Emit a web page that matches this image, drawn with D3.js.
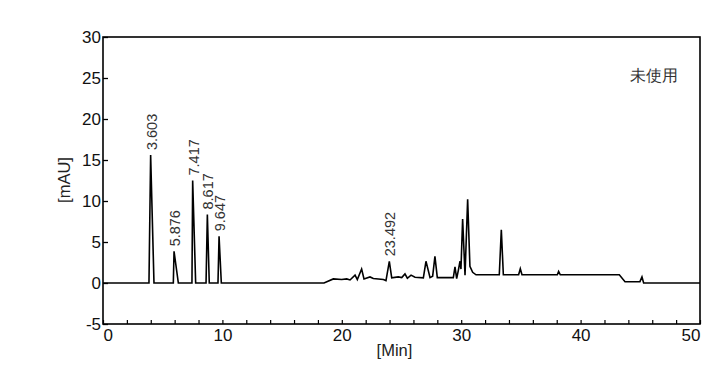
<!DOCTYPE html>
<html>
<head>
<meta charset="utf-8">
<script src="https://cdn.jsdelivr.net/npm/d3@7"></script>
<style>
  html, body { margin: 0; padding: 0; background: #fff; }
  svg { display: block; }
  text { font-family: "Liberation Sans", Arial, sans-serif; }
</style>
</head>
<body>
<svg id="chart" width="717" height="380"></svg>
<script>
// ---- data ----
const times = [0,3.85,3.99,4.27,5.89,5.95,6.31,7.45,7.51,7.76,8.63,8.74,8.9,9.63,9.72,9.91,
  18.51,19.29,19.99,20.41,20.69,21.11,21.3,21.66,21.86,22.36,22.64,23.48,23.7,23.98,24.18,
  24.73,25.02,25.29,25.49,25.8,26.13,26.83,27.05,27.39,27.61,27.8,28.0,29.34,29.48,29.62,
  29.76,29.9,29.98,30.12,30.32,30.54,30.73,30.96,31.24,33.19,33.36,33.53,34.81,34.95,35.09,
  38.05,38.16,38.3,43.24,43.72,44.97,45.14,45.28,50];
const absorbance = [0,0,15.6,0,0,3.86,0,0,12.5,0,0,8.35,0,0,5.7,0,
  0,0.5,0.42,0.5,0.37,0.96,0.42,1.7,0.5,0.74,0.54,0.42,0.3,2.65,0.62,
  0.74,0.66,1.1,0.58,0.96,0.7,0.62,2.65,0.66,0.83,3.25,0.66,0.66,1.96,0.54,
  1.55,2.65,1.7,7.8,0.96,10.2,2.04,1.3,1.0,1.0,6.5,1.0,1.0,1.74,1.0,
  1.0,1.4,1.0,1.0,0.16,0.16,0.74,0,0];
const peakLabels = ["3.603","5.876","7.417","8.617","9.647","23.492"];
const peakTimes = [3.99,5.95,7.51,8.74,9.72,23.98];
const peakHeights = [15.6,3.86,12.5,8.35,5.7,2.65];
const yTicks = [-5,0,5,10,15,20,25,30];
const xTicks = [0,10,20,30,40,50];
const xMinorTicks = d3.range(0, 50.01, 2);
const xTitle = "[Min]";
const yTitle = "[mAU]";
const annotation = "未使用";

// ---- layout ----
const svg = d3.select("#chart");
const m = {left: 103, top: 37, right: 17, bottom: 56};
const W = 717 - m.left - m.right, H = 380 - m.top - m.bottom;
const x = d3.scaleLinear().domain([0, 50]).range([0, W]);
const y = d3.scaleLinear().domain([-5, 30]).range([H, 0]);
const g = svg.append("g").attr("transform", `translate(${m.left},${m.top})`);

// y axis (ticks inward)
const yAxis = g.append("g").call(d3.axisLeft(y).tickValues(yTicks).tickSize(-5).tickPadding(2).tickFormat(d => String(d)));
yAxis.select(".domain").remove();
yAxis.selectAll("line").attr("stroke", "#000").attr("stroke-width", 1.3);
yAxis.selectAll("text").attr("font-size", 17).attr("fill", "#111");

// x axis minor ticks
const xMinor = g.append("g").attr("transform", `translate(0,${H})`)
  .call(d3.axisBottom(x).tickValues(xMinorTicks).tickSize(-4).tickFormat(""));
xMinor.select(".domain").remove();
xMinor.selectAll("line").attr("stroke", "#000").attr("stroke-width", 1.2);

// x axis labels
const xAxis = g.append("g").attr("transform", `translate(0,${H})`)
  .call(d3.axisBottom(x).tickValues(xTicks).tickSize(0).tickPadding(5).tickFormat(d => String(d)));
xAxis.select(".domain").remove();
xAxis.selectAll("text").attr("font-size", 17).attr("fill", "#111")
  .attr("text-anchor", d => d === 0 ? "start" : (d === 50 ? "end" : "middle"));

// frame
g.append("rect").attr("x", 0).attr("y", 0).attr("width", W).attr("height", H)
  .attr("fill", "none").attr("stroke", "#000").attr("stroke-width", 1.6);

// trace
const line = d3.line().x((d, i) => x(times[i])).y((d, i) => y(absorbance[i]));
g.append("path").datum(times).attr("d", line)
  .attr("fill", "none").attr("stroke", "#000").attr("stroke-width", 1.6).attr("stroke-linejoin", "miter");

// peak labels
peakLabels.forEach((lab, i) => {
  const px = x(peakTimes[i]) + 6, py = y(peakHeights[i]) - 5;
  g.append("text").attr("transform", `translate(${px},${py}) rotate(-90)`)
    .attr("font-size", 14.5).attr("fill", "#333").attr("text-anchor", "start").text(lab);
});

// titles
svg.append("text").attr("x", m.left + W / 2 - 7).attr("y", 356)
  .attr("text-anchor", "middle").attr("font-size", 16.5).attr("fill", "#222").text(xTitle);
svg.append("text").attr("transform", `translate(70,180) rotate(-90)`)
  .attr("text-anchor", "middle").attr("font-size", 16.5).attr("fill", "#222").text(yTitle);
svg.append("text").attr("x", 654).attr("y", 81).attr("text-anchor", "middle")
  .attr("font-family", "'Noto Sans CJK SC', sans-serif").attr("font-size", 16).attr("fill", "#333").text(annotation);
</script>
</body>
</html>
